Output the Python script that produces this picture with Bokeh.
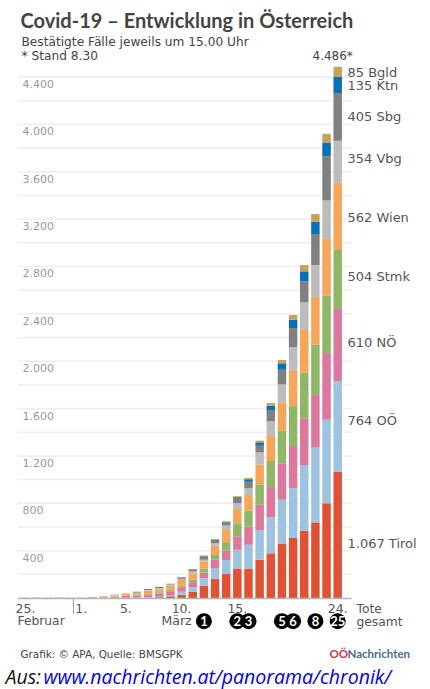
from bokeh.plotting import figure, ColumnDataSource
from bokeh.embed import file_html
from bokeh.resources import INLINE
from bokeh.core.properties import value
from bokeh.models import FixedTicker

states = ["Tirol", "OOE", "NOE", "Stmk", "Wien", "Vbg", "Sbg", "Ktn", "Bgld"]
colors = ["#E05236", "#9DC3E0", "#DC779E", "#8FB767", "#F6A658", "#BCBCBC", "#808080", "#0A6EB8", "#C9A25A"]
days = list(range(29))  # 25 Feb .. 24 Mar
Tirol = [2, 2, 3, 3, 3, 0, 0, 0, 1, 1, 2, 3, 6, 14, 28, 53, 104, 163, 203, 250, 250, 324, 377, 459, 507, 569, 639, 800, 1067]
OOE = [0, 0, 0, 0, 0, 0, 0, 1, 1, 2, 2, 3, 5, 8, 25, 37, 62, 87, 118, 158, 200, 250, 304, 371, 419, 554, 631, 706, 764]
NOE = [0, 0, 0, 0, 0, 2, 3, 4, 9, 13, 17, 22, 25, 34, 37, 42, 48, 74, 79, 113, 152, 214, 256, 307, 358, 394, 444, 563, 610]
Stmk = [0, 0, 0, 0, 0, 0, 1, 1, 2, 3, 6, 6, 12, 14, 14, 23, 36, 39, 70, 110, 138, 172, 220, 279, 337, 386, 425, 487, 504]
Wien = [0, 0, 0, 0, 0, 3, 3, 6, 10, 14, 16, 28, 25, 37, 48, 53, 60, 79, 105, 121, 130, 166, 211, 236, 296, 360, 403, 479, 562]
Vbg = [0, 0, 0, 0, 0, 0, 0, 1, 2, 3, 4, 6, 11, 8, 11, 17, 14, 20, 37, 50, 56, 104, 124, 152, 203, 234, 270, 323, 354]
Sbg = [0, 0, 0, 0, 0, 0, 1, 1, 2, 3, 6, 8, 9, 6, 12, 14, 28, 28, 28, 45, 56, 56, 90, 124, 160, 177, 262, 372, 405]
Ktn = [0, 0, 0, 0, 0, 0, 0, 0, 0, 0, 0, 0, 0, 0, 1, 3, 3, 4, 3, 6, 20, 29, 42, 54, 70, 85, 104, 118, 135]
Bgld = [0, 0, 0, 0, 0, 0, 0, 0, 0, 0, 0, 0, 1, 0, 1, 3, 3, 4, 5, 6, 11, 14, 23, 28, 40, 53, 65, 73, 85]

grid_values = [200 * i for i in range(1, 23)]
y_ticks = [400 * i for i in range(1, 12)]
y_labels = ["400", "800", "1.200", "1.600", "2.000", "2.400", "2.800", "3.200", "3.600", "4.000", "4.400"]
x_ticks = [0, 5, 9, 14, 19, 28]
x_labels = ["25.", "1.", "5.", "10.", "15.", "24."]
death_days = [16, 19, 20, 23, 24, 26, 28]
death_labels = ["1", "2", "3", "5", "6", "8", "25"]
side_labels = ["85 Bgld", "135 Ktn", "405 Sbg", "354 Vbg", "562 Wien", "504 Stmk", "610 NÖ", "764 OÖ", "1.067 Tirol"]
side_rows = [72, 85, 116, 158, 217, 276, 342, 420, 543]

DAY = 11.15
UNIT = 0.1184
BASE = 597.5
LEFT = 25.0
W, H = 430, 689
SMALL = "DejaVu Sans"


def X(px):
    return (px - LEFT) / DAY


def Y(py):
    return (BASE - py) / UNIT


p = figure(width=W, height=H, output_backend="svg", toolbar_location=None,
           x_range=(X(0), X(W)), y_range=(Y(H), Y(0)),
           min_border=0, min_border_left=0, min_border_right=0, min_border_top=0, min_border_bottom=0,
           background_fill_color="white", border_fill_color="white", outline_line_color=None)
p.grid.visible = False
p.yaxis.visible = False

p.segment(x0=[X(17)] * len(grid_values), x1=[X(351)] * len(grid_values), y0=grid_values, y1=grid_values,
          line_color="#EDEDED", line_width=1.5)

data = dict(day=days, Tirol=Tirol, OOE=OOE, NOE=NOE, Stmk=Stmk, Wien=Wien, Vbg=Vbg, Sbg=Sbg, Ktn=Ktn, Bgld=Bgld)
p.vbar_stack(states, x="day", width=0.76, color=colors, line_width=0, source=ColumnDataSource(data))

ax = p.xaxis[0]
ax.fixed_location = 0
ax.ticker = FixedTicker(ticks=x_ticks)
ax.major_label_overrides = dict(zip(x_ticks, x_labels))
ax.axis_line_color = "#B5B5B5"
ax.axis_line_width = 1.5
ax.major_tick_line_color = None
ax.minor_tick_line_color = None
ax.major_label_standoff = 0
ax.major_label_text_font = SMALL
ax.major_label_text_font_size = "12.5px"
ax.major_label_text_color = "#555555"
ax.bounds = (X(17), X(351))


def txt(px, py, s, size, color="#555555", style="normal", font=SMALL, align="left"):
    p.text(x=[X(px)], y=[Y(py)], text=[s], text_font=value(font), text_font_size=value(f"{size}px"),
           text_color=color, text_font_style=style, text_align=align, text_baseline="middle")


p.text(x=[X(22)] * len(y_ticks), y=y_ticks, text=y_labels, y_offset=7, text_font=value(SMALL),
       text_font_size=value("11px"), text_color="#999999", text_baseline="middle")

p.segment(x0=[X(73)], x1=[X(73)], y0=[0], y1=[Y(613)], line_color="#A0A0A0", line_width=1)

txt(20, 19, "Covid-19 – Entwicklung in Österreich", 20, "#444444", "bold", "Lato")
txt(21, 41, "Bestätigte Fälle jeweils um 15.00 Uhr", 12.2, "#444444")
txt(21, 55, "* Stand 8.30", 12.2, "#444444")
txt(312, 55, "4.486*", 12, "#444444")
for lab, row in zip(side_labels, side_rows):
    txt(347, row, lab, 13)
txt(17, 620, "Februar", 12.3)
txt(161, 620, "März", 12.5)
txt(356, 608, "Tote", 12.3)
txt(356, 621, "gesamt", 12.3)

p.scatter(x=death_days, y=[Y(620.7)] * len(death_days), size=16, color="#000000", line_width=0)
p.text(x=death_days, y=[Y(620.7)] * len(death_days), text=death_labels, text_font=value("Lato"),
       text_font_size=value("13px"), text_color="#FFFFFF", text_font_style="bold",
       text_align="center", text_baseline="middle")

txt(20, 653, "Grafik: © APA, Quelle: BMSGPK", 10.4, "#444444")
txt(329, 653, "OÖ", 11.5, "#D0304A", "bold", "Lato")
txt(347, 653, "Nachrichten", 11.5, "#4A6A8A", "bold", "Lato")
txt(5, 675.5, "Aus:", 19.5, "#111111", "italic", "Open Sans")
txt(43, 675.5, "www.nachrichten.at/panorama/chronik/", 19.5, "#0000EE", "italic", "Open Sans")

open("out.html", "w").write(file_html(p, INLINE))
